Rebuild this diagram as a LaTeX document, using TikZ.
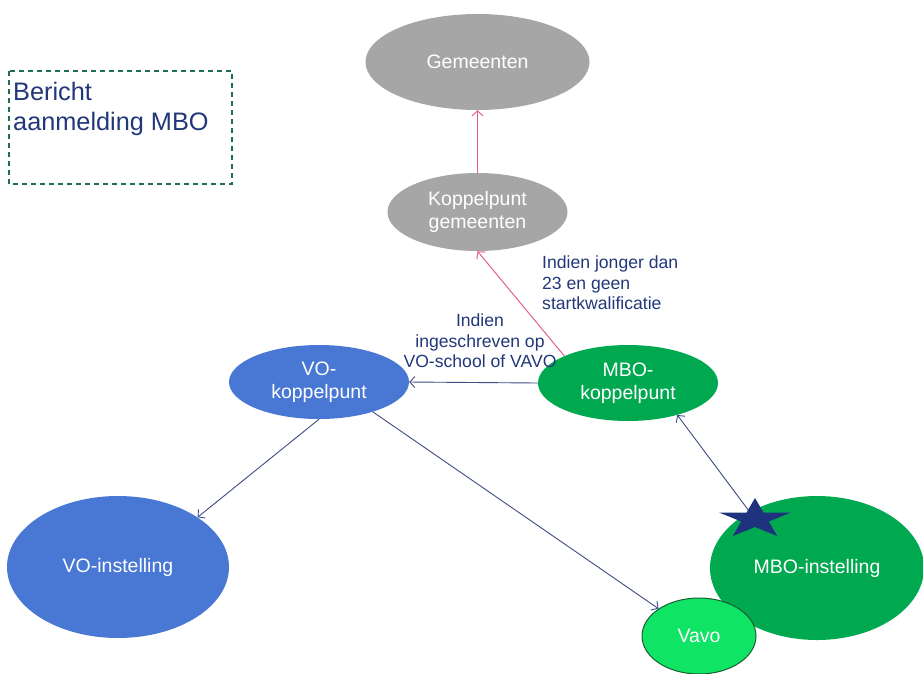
\documentclass[tikz,border=0pt]{standalone}
\usepackage{fontspec}
\setmainfont{Liberation Sans}
\usetikzlibrary{shapes.geometric,arrows.meta}
\definecolor{ngray}{RGB}{166,166,166}
\definecolor{nblue}{RGB}{72,120,212}
\definecolor{ngreen}{RGB}{0,168,80}
\definecolor{nvavo}{RGB}{15,228,100}
\definecolor{nvavoline}{RGB}{25,95,50}
\definecolor{nstar}{RGB}{30,50,125}
\definecolor{nline}{RGB}{60,75,130}
\definecolor{npink}{RGB}{230,95,135}
\definecolor{ntext}{RGB}{33,55,120}
\definecolor{nbox}{RGB}{30,110,80}
\tikzset{
  oval/.style={ellipse, inner sep=0pt, text=white, align=center,
    font=\fontsize{19.5}{23}\selectfont},
  conn/.style={draw=nline, line width=0.9pt,
    -{Straight Barb[length=5pt,width=11pt,line width=0.9pt]}},
  pconn/.style={draw=npink, line width=1pt,
    -{Straight Barb[length=5pt,width=11pt,line width=1pt]}},
  lbl/.style={text=ntext, inner sep=0pt, font=\fontsize{17.6}{20.5}\selectfont}
}
\begin{document}
\begin{tikzpicture}[x=1pt,y=1pt]
\useasboundingbox (0,0) rectangle (923,-673);
% ellipses
\node[oval, fill=ngray, minimum width=224pt, minimum height=96pt] (gem) at (477.5,-62) {Gemeenten};
\node[oval, fill=ngray, minimum width=180pt, minimum height=78pt] (kpg) at (477.5,-212) {Koppelpunt\\gemeenten};
\node[oval, fill=nblue, minimum width=180pt, minimum height=74pt] (vok) at (319,-382) {VO-\\koppelpunt};
\node[oval, fill=ngreen, minimum width=180pt, minimum height=76pt] (mbok) at (628,-383) {MBO-\\koppelpunt};
\node[oval, fill=nblue, minimum width=222pt, minimum height=142pt] (voi) at (118,-567) {VO-instelling};
\node[oval, fill=ngreen, minimum width=214pt, minimum height=144pt] (mboi) at (817,-568) {MBO-instelling};
\node[oval, fill=nvavo, draw=nvavoline, line width=1pt, minimum width=114pt, minimum height=76pt] (vavo) at (699,-636) {Vavo};
% connectors
\draw[pconn] (kpg) -- (gem);
\draw[pconn] (mbok.157) -- (kpg.south);
\draw[conn] (mbok.west) -- (vok.east);
\draw[conn] (vok.south) -- (voi.32);
\draw[conn] (vok.-29) -- (vavo.146);
\coordinate (starc) at (755,-519);
\draw[conn] (starc) -- (mbok.-33);
\node[star, star points=5, star point ratio=2.618, fill=nstar, inner sep=0pt,
  minimum size=42pt, xscale=1.8, transform shape] (star) at (starc) {};
% labels
\node[lbl, anchor=west, align=left] (lblA) at (542,-283) {Indien jonger dan\\23 en geen\\startkwalificatie};
\node[lbl, align=center] (lblB) at (480,-341) {Indien\\ingeschreven op\\VO-school of VAVO};
% message box
\draw[nbox, line width=1.6pt, dash pattern=on 5pt off 4pt] (9,-71) rectangle (232,-184);
\node[text=ntext, anchor=west, align=left, inner sep=0pt,
  font=\fontsize{25.3}{30}\selectfont] (msg) at (13,-109) {Bericht\\aanmelding MBO};
\end{tikzpicture}
\end{document}
